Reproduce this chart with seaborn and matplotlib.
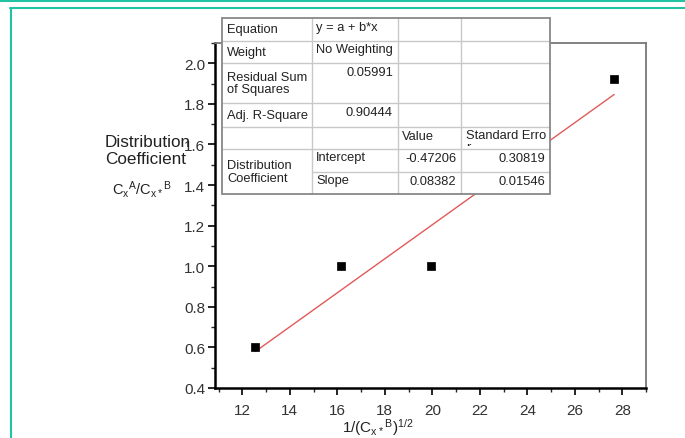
import numpy as np
import pandas as pd
import matplotlib
matplotlib.use("Agg")
import matplotlib.pyplot as plt
import seaborn as sns
from matplotlib.lines import Line2D
from matplotlib.patches import Rectangle

# ---- data ----
x_vals = [12.55, 16.17, 19.96, 27.66]
y_vals = [0.60, 1.00, 1.00, 1.925]
intercept = -0.47206
slope = 0.08382
x_ticks = [12, 14, 16, 18, 20, 22, 24, 26, 28]
y_ticks = [0.4, 0.6, 0.8, 1.0, 1.2, 1.4, 1.6, 1.8, 2.0]
table_rows = [
    ["Equation", "y = a + b*x", "", ""],
    ["Weight", "No Weighting", "", ""],
    ["Residual Sum\nof Squares", "0.05991", "", ""],
    ["Adj. R-Square", "0.90444", "", ""],
    ["", "", "Value", "Standard Erro\nr"],
    ["Distribution\nCoefficient", "Intercept", "-0.47206", "0.30819"],
    ["", "Slope", "0.08382", "0.01546"],
]

sns.set_style("ticks")
plt.rcParams['font.family'] = ['Liberation Sans', 'DejaVu Sans']
plt.rcParams['mathtext.fontset'] = 'custom'
plt.rcParams['mathtext.rm'] = 'Liberation Sans'
plt.rcParams['mathtext.it'] = 'Liberation Sans'

W, H = 685, 439
fig = plt.figure(figsize=(W / 100, H / 100), dpi=100)
ax = fig.add_axes([215 / W, 1 - 389 / H, (646 - 215) / W, (389 - 44) / H])

df = pd.DataFrame({"x": x_vals, "y": y_vals})
fit_x = [min(x_vals), max(x_vals)]
fit = pd.DataFrame({"x": fit_x, "y": [intercept + slope * v for v in fit_x]})
sns.lineplot(data=fit, x="x", y="y", ax=ax, color="#e05a5a", linewidth=1.0)
sns.scatterplot(data=df, x="x", y="y", ax=ax, marker="s", s=40, color="black",
                edgecolor="black", zorder=5)

ax.set_xlim(10.85, 29.0)
ax.set_ylim(0.4, 2.1)
ax.set_xticks(x_ticks)
ax.set_xticklabels([str(t) for t in x_ticks])
ax.set_yticks(y_ticks)
ax.set_yticklabels([f"{t:.1f}" for t in y_ticks])
ax.set_xticks(np.arange(11, 29.5, 1), minor=True)
ax.set_yticks(np.arange(0.4, 2.11, 0.1), minor=True)
ax.tick_params(axis="both", which="major", direction="out", length=5, width=1.2,
               labelsize=11, colors="black", labelcolor="#333333")
ax.tick_params(axis="both", which="minor", direction="out", length=3, width=1.0)
ax.tick_params(axis="x", pad=6)
ax.tick_params(axis="y", pad=2)
ax.set_xlabel("")
ax.set_ylabel("")
for s in ["left", "bottom"]:
    ax.spines[s].set_linewidth(1.8)
    ax.spines[s].set_color("black")
for s in ["top", "right"]:
    ax.spines[s].set_visible(True)
    ax.spines[s].set_linewidth(1.3)
    ax.spines[s].set_color("#777777")

# axis labels
fig.text(105 / W, 1 - 151 / H, "Distribution\nCoefficient", ha="left", va="center",
         fontsize=12.3, color="#222222", linespacing=1.15)
fig.text(142 / W, 1 - 190 / H, r"$\mathrm{C_x{}^A/C_{x*}{}^B}$", ha="center", va="center",
         fontsize=10.5, color="#222222")
fig.text(378 / W, 1 - 428 / H, r"$\mathrm{1/(C_{x*}{}^B)^{1/2}}$", ha="center", va="center",
         fontsize=11, color="#222222")

# table overlay (pixel geometry)
cols = [222, 312, 398, 461, 550]
rows = [19, 42, 64, 104, 128, 150, 173, 195]

def fx(px):
    return px / W

def fy(py):
    return 1 - py / H

fig.patches.append(Rectangle((fx(cols[0]), fy(rows[-1])), fx(cols[-1]) - fx(cols[0]),
                             fy(rows[0]) - fy(rows[-1]), transform=fig.transFigure,
                             facecolor="white", edgecolor="none", zorder=10))
grid_c = "#c8c8c8"
for i, r in enumerate(rows[1:-1], start=1):
    x0 = cols[1] if i == 6 else cols[0]
    fig.lines.append(Line2D([fx(x0), fx(cols[-1])], [fy(r), fy(r)], transform=fig.transFigure,
                            color=grid_c, lw=1.0, zorder=11))
for c in cols[1:-1]:
    fig.lines.append(Line2D([fx(c), fx(c)], [fy(rows[0]), fy(rows[-1])], transform=fig.transFigure,
                            color=grid_c, lw=1.0, zorder=11))
fig.patches.append(Rectangle((fx(cols[0]), fy(rows[-1])), fx(cols[-1]) - fx(cols[0]),
                             fy(rows[0]) - fy(rows[-1]), transform=fig.transFigure,
                             facecolor="none", edgecolor="#888888", lw=1.3, zorder=12))

tfs = 9.3
for i, row in enumerate(table_rows):
    top, bot = rows[i], rows[i + 1]
    for j, txt in enumerate(row):
        if not txt:
            continue
        left, right = cols[j], cols[j + 1]
        kw = dict(fontsize=tfs, color="#222222", zorder=13)
        if j == 0:
            if i == 5:
                fig.text(fx(left + 5), fy((rows[5] + rows[7]) / 2), txt, ha="left", va="center",
                         linespacing=1.1, **kw)
            else:
                fig.text(fx(left + 5), fy((top + bot) / 2), txt, ha="left", va="center",
                         linespacing=1.1, **kw)
            continue
        numeric = txt[0].isdigit() or txt[0] == "-"
        if numeric:
            fig.text(fx(right - 5), fy(top + 9), txt, ha="right", va="center", **kw)
        elif "\n" in txt:
            t = fig.text(fx(left + 5), fy(top + 2), txt, ha="left", va="top",
                         linespacing=1.0, **kw)
            clip = Rectangle((fx(left), fy(bot - 3)), fx(right) - fx(left), fy(top) - fy(bot - 3),
                             transform=fig.transFigure)
            t.set_clip_path(clip)
            t.set_clip_on(True)
        else:
            fig.text(fx(left + 4), fy(top + 8.5), txt, ha="left", va="center", **kw)

# teal frame
teal = "#22c3a3"
fig.lines.append(Line2D([0, 1], [fy(2), fy(2)], transform=fig.transFigure, color=teal, lw=1.5))
fig.lines.append(Line2D([fx(10), 1], [fy(9), fy(9)], transform=fig.transFigure, color=teal, lw=1.5))
fig.lines.append(Line2D([fx(10.5), fx(10.5)], [fy(9), 0], transform=fig.transFigure, color=teal, lw=1.5))

fig.savefig("out.png", dpi=100)
